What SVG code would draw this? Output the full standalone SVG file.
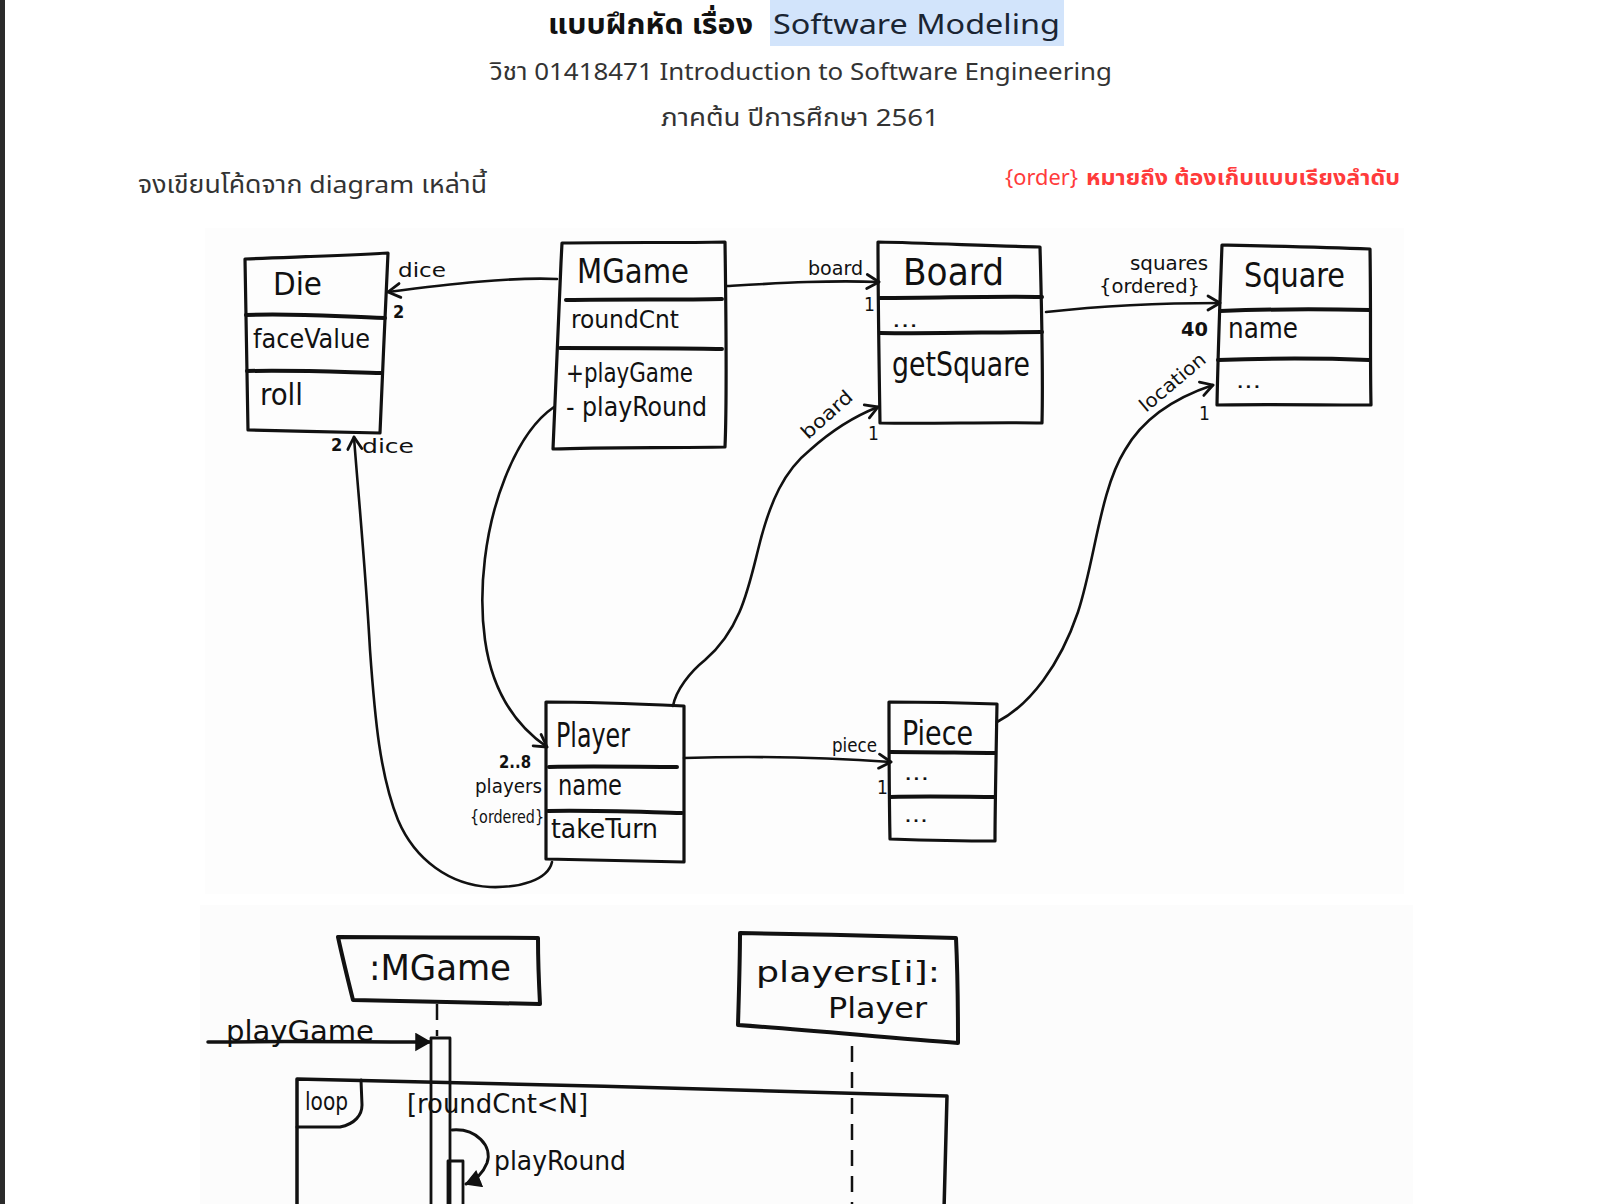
<svg xmlns="http://www.w3.org/2000/svg" width="1600" height="1204" viewBox="0 0 1600 1204">
<defs>
<style>
.doc{font-family:"Noto Sans Thai","Noto Sans","Liberation Sans","DejaVu Sans",sans-serif;}
.hw{font-family:"DejaVu Sans Condensed","DejaVu Sans",sans-serif;fill:#111;}
.box{fill:none;stroke:#111;stroke-width:3.2;stroke-linejoin:round;stroke-linecap:round;}
.div{fill:none;stroke:#111;stroke-width:4;stroke-linecap:round;}
.con{fill:none;stroke:#111;stroke-width:2.6;stroke-linecap:round;}
.dash{fill:none;stroke:#111;stroke-width:2.5;stroke-dasharray:16 10;}
</style>
<marker id="open" markerWidth="20" markerHeight="20" refX="15" refY="9" orient="auto" markerUnits="userSpaceOnUse">
<path d="M3,2 L15,9 L3,16" fill="none" stroke="#111" stroke-width="2.8" stroke-linecap="round" stroke-linejoin="round"/>
</marker>
<marker id="filled" markerWidth="20" markerHeight="20" refX="15" refY="9" orient="auto" markerUnits="userSpaceOnUse">
<path d="M1,1 L15,9 L1,17 Z" fill="#111" stroke="#111" stroke-width="1.5"/>
</marker>
</defs>
<rect x="0" y="0" width="1600" height="1204" fill="#ffffff"/>
<rect x="0" y="0" width="5" height="1204" fill="#2b2b2b"/>
<rect x="205" y="228" width="1199" height="666" fill="#fdfdfd"/>
<rect x="200" y="905" width="1213" height="299" fill="#fcfcfc"/>

<g id="header">
<rect x="770" y="0" width="294" height="46" fill="#d2e4fb"/>
<text class="doc" x="548" y="34" font-size="28" font-weight="bold" fill="#111" textLength="205" lengthAdjust="spacingAndGlyphs">แบบฝึกหัด เรื่อง</text>
<text class="doc" x="773" y="34" font-size="28" fill="#1a2533" textLength="287" lengthAdjust="spacingAndGlyphs">Software Modeling</text>
<text class="doc" x="490" y="80" font-size="24" fill="#333" textLength="622" lengthAdjust="spacingAndGlyphs">วิชา 01418471 Introduction to Software Engineering</text>
<text class="doc" x="661" y="126" font-size="24" fill="#333" textLength="278" lengthAdjust="spacingAndGlyphs">ภาคต้น ปีการศึกษา 2561</text>
<text class="doc" x="138" y="193" font-size="24" fill="#333" textLength="349" lengthAdjust="spacingAndGlyphs">จงเขียนโค้ดจาก diagram เหล่านี้</text>
<text class="doc" x="1005" y="185" font-size="22" fill="#ff3b3b" textLength="73" lengthAdjust="spacingAndGlyphs">{order}</text>
<text class="doc" x="1086" y="185" font-size="22" font-weight="bold" fill="#ff3b3b" textLength="314" lengthAdjust="spacingAndGlyphs">หมายถึง ต้องเก็บแบบเรียงลำดับ</text>
</g>

<g id="connectors">
<path class="con" d="M557,279 C 510,277 450,284 388,292" marker-end="url(#open)"/>
<path class="con" d="M727,286 C 780,283 830,280 879,282" marker-end="url(#open)"/>
<path class="con" d="M1046,312 C 1100,306 1160,303 1220,303" marker-end="url(#open)"/>
<path class="con" d="M673,706 C 676,690 690,672 705,660 C 740,630 748,590 758,550 C 770,500 785,470 810,450 C 830,432 855,416 878,407" marker-end="url(#open)"/>
<path class="con" d="M997,722 C 1030,705 1060,665 1078,612 C 1095,560 1100,490 1125,450 C 1145,415 1180,396 1213,385" marker-end="url(#open)"/>
<path class="con" d="M554,407 C 535,420 518,445 505,478 C 485,528 478,590 485,640 C 492,690 515,725 547,747" marker-end="url(#open)"/>
<path class="con" d="M552,862 C 548,880 520,888 490,887 C 450,885 415,860 398,820 C 380,775 375,720 370,650 C 365,560 357,480 354,437" marker-end="url(#open)"/>
<path class="con" d="M684,758 C 750,756 820,757 891,762" marker-end="url(#open)"/>
<text class="hw" x="398" y="277" font-size="20" textLength="48" lengthAdjust="spacingAndGlyphs">dice</text>
<text class="hw" x="393" y="318" font-size="18" font-weight="bold">2</text>
<text class="hw" x="808" y="275" font-size="19" textLength="55" lengthAdjust="spacingAndGlyphs">board</text>
<text class="hw" x="864" y="311" font-size="19">1</text>
<text class="hw" x="1130" y="270" font-size="19" textLength="78" lengthAdjust="spacingAndGlyphs">squares</text>
<text class="hw" x="1099" y="293" font-size="19" textLength="101" lengthAdjust="spacingAndGlyphs">{ordered}</text>
<text class="hw" x="1181" y="336" font-size="19" font-weight="bold" textLength="27" lengthAdjust="spacingAndGlyphs">40</text>
<text class="hw" x="0" y="0" font-size="19" textLength="62" lengthAdjust="spacingAndGlyphs" transform="translate(808,440) rotate(-42)">board</text>
<text class="hw" x="868" y="440" font-size="19">1</text>
<text class="hw" x="0" y="0" font-size="19" textLength="80" lengthAdjust="spacingAndGlyphs" transform="translate(1146,413) rotate(-40)">location</text>
<text class="hw" x="1199" y="420" font-size="19">1</text>
<text class="hw" x="331" y="451" font-size="18" font-weight="bold">2</text>
<text class="hw" x="362" y="453" font-size="20" textLength="52" lengthAdjust="spacingAndGlyphs">dice</text>
<text class="hw" x="499" y="768" font-size="18" font-weight="bold" textLength="32" lengthAdjust="spacingAndGlyphs">2..8</text>
<text class="hw" x="475" y="793" font-size="19" textLength="67" lengthAdjust="spacingAndGlyphs">players</text>
<text class="hw" x="470" y="823" font-size="18" textLength="74" lengthAdjust="spacingAndGlyphs">{ordered}</text>
<text class="hw" x="832" y="752" font-size="19" textLength="45" lengthAdjust="spacingAndGlyphs">piece</text>
<text class="hw" x="877" y="794" font-size="19">1</text>
</g>

<g id="die">
<path class="box" d="M245,259 C 290,257 340,256 388,253 C 386,300 382,380 380,433 C 340,432 290,431 248,430 C 247,380 246,310 245,259 Z"/>
<path class="div" d="M246,315 C 300,313 340,317 385,318"/>
<path class="div" d="M247,371 C 300,370 340,372 382,373"/>
<text class="hw" x="273" y="295" font-size="32" textLength="49" lengthAdjust="spacingAndGlyphs">Die</text>
<text class="hw" x="253" y="348" font-size="27" textLength="117" lengthAdjust="spacingAndGlyphs">faceValue</text>
<text class="hw" x="260" y="405" font-size="30" textLength="43" lengthAdjust="spacingAndGlyphs">roll</text>
</g>

<g id="mgame">
<path class="box" d="M562,243 C 620,242 680,243 725,242 C 726,310 727,400 725,447 C 670,448 600,447 553,449 C 555,400 558,320 562,243 Z"/>
<path class="div" d="M566,300 C 620,299 680,300 722,299"/>
<path class="div" d="M560,348 C 620,348 680,348 722,349"/>
<text class="hw" x="577" y="283" font-size="34" textLength="112" lengthAdjust="spacingAndGlyphs">MGame</text>
<text class="hw" x="571" y="328" font-size="25" textLength="108" lengthAdjust="spacingAndGlyphs">roundCnt</text>
<text class="hw" x="566" y="382" font-size="26" textLength="127" lengthAdjust="spacingAndGlyphs">+playGame</text>
<text class="hw" x="566" y="416" font-size="26" textLength="141" lengthAdjust="spacingAndGlyphs">- playRound</text>
</g>

<g id="board">
<path class="box" d="M878,242 C 930,243 990,246 1040,247 C 1042,320 1043,380 1042,423 C 990,422 930,424 880,423 C 879,360 878,300 878,242 Z"/>
<path class="div" d="M880,298 C 940,298 990,296 1042,297"/>
<path class="div" d="M880,333 C 940,334 990,332 1042,332"/>
<text class="hw" x="903" y="285" font-size="38" textLength="101" lengthAdjust="spacingAndGlyphs">Board</text>
<text class="hw" x="892" y="327" font-size="22" textLength="26" lengthAdjust="spacingAndGlyphs">...</text>
<text class="hw" x="892" y="376" font-size="33" textLength="138" lengthAdjust="spacingAndGlyphs">getSquare</text>
</g>

<g id="square">
<path class="box" d="M1222,245 C 1270,246 1320,247 1370,249 C 1371,310 1370,360 1371,405 C 1320,405 1260,404 1217,405 C 1218,350 1220,300 1222,245 Z"/>
<path class="div" d="M1220,311 C 1270,309 1320,309 1370,310"/>
<path class="div" d="M1218,360 C 1270,358 1320,358 1369,360"/>
<text class="hw" x="1244" y="287" font-size="34" textLength="101" lengthAdjust="spacingAndGlyphs">Square</text>
<text class="hw" x="1228" y="338" font-size="28" textLength="70" lengthAdjust="spacingAndGlyphs">name</text>
<text class="hw" x="1236" y="388" font-size="22" textLength="25" lengthAdjust="spacingAndGlyphs">...</text>
</g>

<g id="player">
<path class="box" d="M546,702 C 590,702 640,704 684,706 C 684,760 684,820 684,862 C 640,861 590,860 546,859 C 546,800 546,750 546,702 Z"/>
<path class="div" d="M549,767 C 590,766 640,767 677,767"/>
<path class="div" d="M548,811 C 590,810 640,812 682,813"/>
<text class="hw" x="556" y="747" font-size="34" textLength="74" lengthAdjust="spacingAndGlyphs">Player</text>
<text class="hw" x="558" y="795" font-size="28" textLength="64" lengthAdjust="spacingAndGlyphs">name</text>
<text class="hw" x="551" y="838" font-size="27" textLength="107" lengthAdjust="spacingAndGlyphs">takeTurn</text>
</g>

<g id="piece">
<path class="box" d="M889,702 C 930,702 970,703 997,704 C 996,760 995,810 995,841 C 960,841 920,840 890,839 C 889,790 889,750 889,702 Z"/>
<path class="div" d="M890,752 C 930,752 970,753 995,753"/>
<path class="div" d="M890,797 C 930,796 970,797 995,797"/>
<text class="hw" x="902" y="745" font-size="34" textLength="71" lengthAdjust="spacingAndGlyphs">Piece</text>
<text class="hw" x="904" y="780" font-size="22" textLength="25" lengthAdjust="spacingAndGlyphs">...</text>
<text class="hw" x="904" y="822" font-size="22" textLength="24" lengthAdjust="spacingAndGlyphs">...</text>
</g>

<g id="seq-mgame">
<path class="box" style="stroke-width:4" d="M338,937 C 400,937 480,938 538,938 C 538,960 539,985 540,1004 C 480,1003 410,1001 353,1000 C 348,980 343,960 338,937 Z"/>
<text class="hw" x="369" y="980" font-size="36" textLength="142" lengthAdjust="spacingAndGlyphs">:MGame</text>
<path class="dash" d="M437,1004 L437,1036"/>
<path class="box" style="stroke-width:2.8" d="M431,1210 L431,1038 L450,1038 L450,1210"/>
</g>

<g id="seq-player">
<path class="box" style="stroke-width:4" d="M740,933 C 810,934 890,936 956,938 C 958,980 958,1010 958,1043 C 890,1038 810,1030 738,1025 C 739,990 740,960 740,933 Z"/>
<text class="hw" x="756" y="982" font-size="29" textLength="184" lengthAdjust="spacingAndGlyphs">players[i]:</text>
<text class="hw" x="828" y="1018" font-size="29" textLength="99" lengthAdjust="spacingAndGlyphs">Player</text>
<path class="dash" d="M852,1046 L852,1204"/>
</g>

<g id="messages">
<path class="con" style="stroke-width:3.5" d="M208,1042 C 280,1041 360,1042 430,1042" marker-end="url(#filled)"/>
<text class="hw" x="226" y="1041" font-size="28" textLength="148" lengthAdjust="spacingAndGlyphs">playGame</text>
<path class="con" style="stroke-width:3" d="M452,1130 C 476,1128 493,1146 487,1163 C 483,1173 476,1180 466,1184" marker-end="url(#filled)"/>
<path class="box" style="stroke-width:2.8" d="M448,1210 L448,1161 L463,1161 L463,1210"/>
<text class="hw" x="494" y="1170" font-size="26" textLength="132" lengthAdjust="spacingAndGlyphs">playRound</text>
</g>

<g id="loop-frame">
<path class="box" style="stroke-width:3.5" d="M297,1210 L297,1079 C 500,1083 750,1090 947,1096 L944,1210"/>
<path class="box" style="stroke-width:3" d="M297,1127 L340,1127 C 355,1124 362,1115 362,1105 L361,1080"/>
<text class="hw" x="305" y="1110" font-size="24" textLength="43" lengthAdjust="spacingAndGlyphs">loop</text>
<text class="hw" x="407" y="1113" font-size="26" textLength="181" lengthAdjust="spacingAndGlyphs">[roundCnt&lt;N]</text>
</g>
</svg>
